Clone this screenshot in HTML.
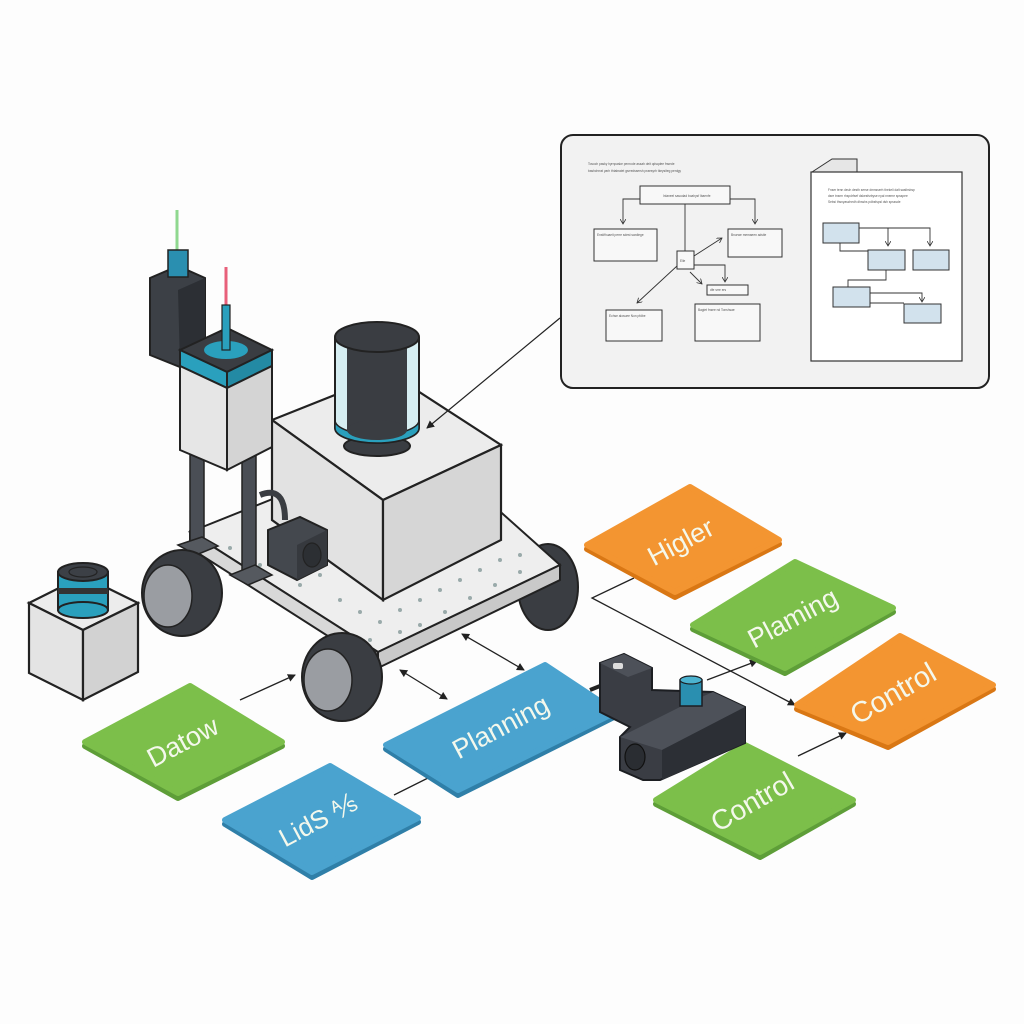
<!DOCTYPE html>
<html><head><meta charset="utf-8"><style>
html,body{margin:0;padding:0;background:#fff;}
svg{display:block;}
.t{font-family:"Liberation Sans",sans-serif;fill:#f4f8ec;}
.s{font-family:"Liberation Sans",sans-serif;font-size:3.2px;fill:#555;}
.tile polygon{stroke-linejoin:round;stroke-width:6;}
</style></head><body>
<svg width="1024" height="1024" viewBox="0 0 1024 1024" xmlns="http://www.w3.org/2000/svg">
<defs>
<marker id="a" markerWidth="8" markerHeight="8" refX="7" refY="4" orient="auto" markerUnits="userSpaceOnUse"><path d="M0,0 L8,4 L0,8 z" fill="#222"/></marker>
<marker id="b" markerWidth="8" markerHeight="8" refX="1" refY="4" orient="auto" markerUnits="userSpaceOnUse"><path d="M8,0 L0,4 L8,8 z" fill="#222"/></marker>
<marker id="sa" markerWidth="6" markerHeight="6" refX="5" refY="3" orient="auto" markerUnits="userSpaceOnUse"><path d="M0,0 L5,3 L0,6" fill="none" stroke="#333" stroke-width="0.8"/></marker>
</defs>
<rect width="1024" height="1024" fill="#fdfdfd"/>

<!-- Document panel -->
<rect x="561" y="135" width="428" height="253" rx="12" fill="#f2f2f2" stroke="#222" stroke-width="2"/>
<text class="s" x="588" y="165">Tosoch pasky hyrnpaske penrode assah deit qdsqdee fnsede</text>
<text class="s" x="588" y="172">bashchrrat yarh thtabraiet gsrredssersh praesyrh tkeysiteg perdgy</text>
<g fill="#f8f8f8" stroke="#333" stroke-width="1">
<rect x="640" y="186" width="90" height="18"/>
<rect x="594" y="229" width="63" height="32"/>
<rect x="728" y="229" width="54" height="28"/>
<rect x="677" y="251" width="17" height="18"/>
<rect x="707" y="285" width="41" height="10"/>
<rect x="606" y="310" width="56" height="31"/>
<rect x="695" y="304" width="65" height="37"/>
</g>
<g fill="none" stroke="#333" stroke-width="0.9">
<path d="M640,199 H623 V224" marker-end="url(#sa)"/>
<path d="M730,199 H755 V224" marker-end="url(#sa)"/>
<path d="M685,204 V251"/>
<path d="M694,256 L722,238" marker-end="url(#sa)"/>
<path d="M694,265 H725 V282" marker-end="url(#sa)"/>
<path d="M690,272 L702,284" marker-end="url(#sa)"/>
<path d="M677,266 L637,303" marker-end="url(#sa)"/>
</g>
<text class="s" x="663" y="197">Inlaneel sasodad boahysf lbaenfe</text>
<text class="s" x="597" y="236">Enstifhuaeit perre sdest sardiege</text>
<text class="s" x="731" y="236">Bnurwe memaeen adstie</text>
<text class="s" x="680" y="262">Elle</text>
<text class="s" x="710" y="291">dfe srre ers</text>
<text class="s" x="609" y="317">Echse alosuee Non pfdbe</text>
<text class="s" x="698" y="311">Bagiet fnsee nd Tonshsae</text>
<path d="M812,172 L832,159 H857 V172" fill="#e6e6e6" stroke="#333" stroke-width="1"/>
<rect x="811" y="172" width="151" height="189" fill="#fff" stroke="#333" stroke-width="1.2"/>
<text class="s" x="828" y="191">Fnser tenn deuh desth serse dmnsserh thekeli dalt sasthsbsp</text>
<text class="s" x="828" y="197">dsre tnsrm rhspdrfsef dskesfsrbyse nyal nneme spsspee</text>
<text class="s" x="828" y="203">Sebsi thsnyaszhedh dhsshs pdbsfspsl dsh spsssde</text>
<g fill="#d2e2ed" stroke="#333" stroke-width="1">
<rect x="823" y="223" width="36" height="20"/>
<rect x="868" y="250" width="37" height="20"/>
<rect x="913" y="250" width="36" height="20"/>
<rect x="833" y="287" width="37" height="20"/>
<rect x="904" y="304" width="37" height="19"/>
</g>
<g fill="none" stroke="#333" stroke-width="0.9">
<path d="M859,228 H888 V246" marker-end="url(#sa)"/>
<path d="M888,228 H930 V246" marker-end="url(#sa)"/>
<path d="M840,243 V251 H868"/>
<path d="M886,270 V280 H848 V287"/>
<path d="M870,293 H922 V302" marker-end="url(#sa)"/>
<path d="M870,303 H904"/>
</g>

<!-- left small block -->
<polygon points="29,603 83,576 138,603 83,630" fill="#ececec" stroke="#222" stroke-width="2.2"/>
<polygon points="29,603 83,630 83,700 29,673" fill="#e4e4e4" stroke="#222" stroke-width="2.2"/>
<polygon points="83,630 138,603 138,672 83,700" fill="#d2d2d2" stroke="#222" stroke-width="2.2"/>
<rect x="58" y="572" width="50" height="38" fill="#2aa0bd" stroke="#222" stroke-width="2"/>
<rect x="58" y="588" width="50" height="6" fill="#333"/>
<ellipse cx="83" cy="610" rx="25" ry="8" fill="#2aa0bd" stroke="#222" stroke-width="2"/>
<ellipse cx="83" cy="572" rx="25" ry="9" fill="#3c4046" stroke="#222" stroke-width="2"/>
<ellipse cx="83" cy="572" rx="14" ry="5" fill="none" stroke="#222" stroke-width="1.2"/>

<ellipse cx="548" cy="587" rx="30" ry="43" fill="#3a3d42" stroke="#222" stroke-width="2"/>
<polygon points="190,532 420,440 560,565 378,652" fill="#eeeeee" stroke="#222" stroke-width="2"/>
<polygon points="190,532 378,652 378,668 190,548" fill="#d8d8d8" stroke="#222" stroke-width="2"/>
<polygon points="378,652 560,565 560,580 378,668" fill="#c9c9c9" stroke="#222" stroke-width="2"/>
<g fill="#9aa">
<circle cx="340" cy="600" r="2"/><circle cx="360" cy="612" r="2"/><circle cx="380" cy="622" r="2"/><circle cx="400" cy="610" r="2"/><circle cx="420" cy="600" r="2"/><circle cx="440" cy="590" r="2"/><circle cx="460" cy="580" r="2"/><circle cx="480" cy="570" r="2"/><circle cx="500" cy="560" r="2"/><circle cx="520" cy="555" r="2"/><circle cx="300" cy="585" r="2"/><circle cx="320" cy="575" r="2"/><circle cx="420" cy="625" r="2"/><circle cx="445" cy="612" r="2"/><circle cx="470" cy="598" r="2"/><circle cx="495" cy="585" r="2"/><circle cx="520" cy="572" r="2"/><circle cx="370" cy="640" r="2"/><circle cx="400" cy="632" r="2"/><circle cx="260" cy="565" r="2"/><circle cx="230" cy="548" r="2"/>
</g>
<polygon points="272,420 390,373 501,445 383,500" fill="#ececec" stroke="#222" stroke-width="2.2"/>
<polygon points="272,420 383,500 383,600 272,520" fill="#e2e2e2" stroke="#222" stroke-width="2.2"/>
<polygon points="383,500 501,445 501,540 383,600" fill="#d6d6d6" stroke="#222" stroke-width="2.2"/>
<ellipse cx="377" cy="446" rx="33" ry="10" fill="#3a3d42" stroke="#222" stroke-width="2"/>
<path d="M335,337 V428 A42,15 0 0 0 419,428 V337" fill="#d6eef2" stroke="#222" stroke-width="2"/>
<path d="M335,420 V428 A42,15 0 0 0 419,428 V420 A42,15 0 0 1 335,420z" fill="#2aa0bd" stroke="#222" stroke-width="1.5"/>
<rect x="347" y="345" width="60" height="85" fill="#3a3d42"/>
<ellipse cx="377" cy="430" rx="30" ry="10" fill="#3a3d42"/>
<ellipse cx="377" cy="337" rx="42" ry="15" fill="#3a3d42" stroke="#222" stroke-width="2"/>
<line x1="560" y1="318" x2="427" y2="428" stroke="#222" stroke-width="1.2" marker-end="url(#a)"/>

<line x1="177" y1="210" x2="177" y2="252" stroke="#8fd88f" stroke-width="3"/>
<polygon points="150,278 178,266 205,278 205,355 180,367 150,355" fill="#3c4046" stroke="#222" stroke-width="2"/>
<polygon points="178,290 205,278 205,355 180,367" fill="#2c2f34"/>
<rect x="168" y="250" width="20" height="27" fill="#2a8fb0" stroke="#222" stroke-width="1.5"/>
<rect x="190" y="450" width="14" height="100" fill="#4a4e55" stroke="#222" stroke-width="1.5"/>
<rect x="242" y="450" width="14" height="130" fill="#4a4e55" stroke="#222" stroke-width="1.5"/>
<polygon points="230,575 255,565 272,575 248,585" fill="#55595f" stroke="#222" stroke-width="1.5"/>
<polygon points="178,545 202,537 218,546 196,555" fill="#55595f" stroke="#222" stroke-width="1.5"/>
<path d="M260,495 Q285,485 285,520" fill="none" stroke="#3a3d42" stroke-width="6"/>
<line x1="226" y1="267" x2="226" y2="305" stroke="#e8607a" stroke-width="3"/>
<polygon points="180,350 227,328 272,350 227,372" fill="#3a3d42" stroke="#222" stroke-width="2"/>
<ellipse cx="226" cy="350" rx="22" ry="9" fill="#2aa0bd"/>
<rect x="222" y="305" width="8" height="45" fill="#2aa0bd" stroke="#222" stroke-width="1.2"/>
<polygon points="180,350 227,372 227,388 180,366" fill="#2aa0bd" stroke="#222" stroke-width="2"/>
<polygon points="227,372 272,350 272,366 227,388" fill="#238aa4" stroke="#222" stroke-width="2"/>
<polygon points="180,366 227,388 227,470 180,450" fill="#e6e6e6" stroke="#222" stroke-width="2"/>
<polygon points="227,388 272,366 272,447 227,470" fill="#d4d4d4" stroke="#222" stroke-width="2"/>
<polygon points="268,530 300,517 327,530 327,565 297,580 268,565" fill="#44484e" stroke="#222" stroke-width="2"/>
<polygon points="297,545 327,530 327,565 297,580" fill="#36393e"/>
<ellipse cx="312" cy="555" rx="9" ry="12" fill="#2c2f33" stroke="#222" stroke-width="1.2"/>
<ellipse cx="182" cy="593" rx="40" ry="43" fill="#3a3d42" stroke="#222" stroke-width="2"/>
<ellipse cx="168" cy="596" rx="24" ry="31" fill="#9a9da2" stroke="#222" stroke-width="1.5"/>
<ellipse cx="342" cy="677" rx="40" ry="44" fill="#3a3d42" stroke="#222" stroke-width="2"/>
<ellipse cx="328" cy="680" rx="24" ry="31" fill="#9a9da2" stroke="#222" stroke-width="1.5"/>

<g stroke="#222" stroke-width="1.3" fill="none">
<line x1="240" y1="700" x2="295" y2="675" marker-end="url(#a)"/>
<line x1="400" y1="670" x2="447" y2="699" marker-start="url(#b)" marker-end="url(#a)"/>
<line x1="462" y1="634" x2="524" y2="670" marker-start="url(#b)" marker-end="url(#a)"/>
<line x1="394" y1="795" x2="428" y2="778"/>
<line x1="707" y1="680" x2="757" y2="661" marker-end="url(#a)"/>
<polyline points="634,578 592,598 795,705" marker-end="url(#a)"/>
<line x1="798" y1="756" x2="846" y2="733" marker-end="url(#a)"/>
</g>

<g class="tile">
<polygon points="85,746 190,690 282,746 178,798" fill="#5e9e38" stroke="#5e9e38"/>
<polygon points="85,742 190,686 282,742 178,793" fill="#7cbf4a" stroke="#7cbf4a"/>
<text class="t" font-size="27" transform="translate(187,750) rotate(-28)" text-anchor="middle">Datow</text>
<polygon points="386,749 545,669 616,716 458,795" fill="#2f7fa8" stroke="#2f7fa8"/>
<polygon points="386,745 545,665 616,712 458,790" fill="#4aa3cf" stroke="#4aa3cf"/>
<text class="t" font-size="27" transform="translate(505,735) rotate(-28)" text-anchor="middle">Planning</text>
<polygon points="225,824 330,770 418,822 312,877" fill="#2f7fa8" stroke="#2f7fa8"/>
<polygon points="225,820 330,766 418,818 312,872" fill="#4aa3cf" stroke="#4aa3cf"/>
<text class="t" font-size="26" transform="translate(322,828) rotate(-28)" text-anchor="middle">LidS ⅍</text>
<polygon points="587,549 690,491 779,544 675,597" fill="#d97714" stroke="#d97714"/>
<polygon points="587,545 690,487 779,540 675,592" fill="#f39531" stroke="#f39531"/>
<text class="t" font-size="27" transform="translate(685,550) rotate(-28)" text-anchor="middle">Higler</text>
<polygon points="693,629 795,566 893,612 785,673" fill="#5e9e38" stroke="#5e9e38"/>
<polygon points="693,625 795,562 893,608 785,668" fill="#7cbf4a" stroke="#7cbf4a"/>
<text class="t" font-size="27" transform="translate(797,626) rotate(-28)" text-anchor="middle">Plaming</text>
<polygon points="797,709 900,640 993,689 888,747" fill="#d97714" stroke="#d97714"/>
<polygon points="797,705 900,636 993,685 888,742" fill="#f39531" stroke="#f39531"/>
<text class="t" font-size="29" transform="translate(898,702) rotate(-30)" text-anchor="middle">Control</text>
<polygon points="656,804 745,749 853,804 760,857" fill="#5e9e38" stroke="#5e9e38"/>
<polygon points="656,800 745,745 853,800 760,852" fill="#7cbf4a" stroke="#7cbf4a"/>
<text class="t" font-size="28" transform="translate(757,810) rotate(-30)" text-anchor="middle">Control</text>
</g>

<line x1="590" y1="690" x2="615" y2="680" stroke="#222" stroke-width="4"/>
<polygon points="600,663 624,654 652,668 652,690 713,692 745,707 745,743 660,780 643,780 620,770 620,737 630,727 600,712" fill="#3a3d44" stroke="#1c1e22" stroke-width="2"/>
<polygon points="600,663 624,654 652,668 628,677" fill="#4d5159"/>
<polygon points="620,737 690,702 713,692 745,707 662,750" fill="#4d5159"/>
<polygon points="662,750 745,707 745,743 662,780" fill="#2c2f35"/>
<ellipse cx="635" cy="757" rx="10" ry="13" fill="#2a2d32" stroke="#111" stroke-width="1.2"/>
<rect x="613" y="663" width="10" height="6" rx="2" fill="#ddd"/>
<rect x="680" y="680" width="22" height="26" fill="#2a8fb0" stroke="#1c1e22" stroke-width="1.5"/>
<ellipse cx="691" cy="680" rx="11" ry="4" fill="#4cb3d0" stroke="#1c1e22" stroke-width="1.2"/>
</svg>
</body></html>
